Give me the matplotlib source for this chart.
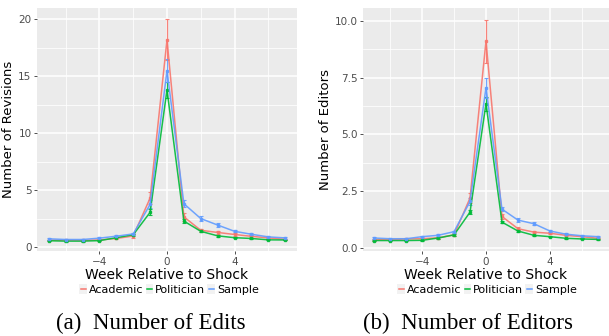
import matplotlib
matplotlib.use("Agg")
import matplotlib.pyplot as plt
from matplotlib.lines import Line2D
from matplotlib.patches import Rectangle
from matplotlib.legend_handler import HandlerBase
import numpy as np

weeks = list(range(-7, 8))
series_names = ["Academic", "Politician", "Sample"]
colors = ["#F8766D", "#00BA38", "#619CFF"]

# Panel (a): Number of Revisions
rev_academic = [0.60, 0.60, 0.58, 0.62, 0.75, 0.97, 4.3, 18.2, 2.65, 1.47, 1.28, 1.10, 0.94, 0.80, 0.68]
rev_politician = [0.55, 0.52, 0.52, 0.56, 0.82, 1.08, 3.05, 13.8, 2.28, 1.38, 0.98, 0.82, 0.75, 0.63, 0.62]
rev_sample = [0.72, 0.66, 0.66, 0.78, 0.95, 1.15, 3.75, 15.5, 3.8, 2.5, 1.93, 1.38, 1.12, 0.89, 0.80]
rev_err_academic = [0.06, 0.06, 0.06, 0.06, 0.08, 0.15, 0.5, 1.8, 0.35, 0.15, 0.12, 0.1, 0.08, 0.07, 0.06]
rev_err_politician = [0.04, 0.04, 0.04, 0.04, 0.06, 0.08, 0.25, 0.7, 0.15, 0.08, 0.06, 0.05, 0.05, 0.04, 0.04]
rev_err_sample = [0.06, 0.05, 0.05, 0.06, 0.08, 0.08, 0.35, 1.0, 0.3, 0.2, 0.15, 0.1, 0.08, 0.06, 0.06]

# Panel (b): Number of Editors
ed_academic = [0.36, 0.37, 0.40, 0.41, 0.45, 0.58, 2.2, 9.1, 1.39, 0.85, 0.70, 0.65, 0.56, 0.50, 0.43]
ed_politician = [0.33, 0.33, 0.33, 0.34, 0.44, 0.58, 1.58, 6.35, 1.14, 0.75, 0.56, 0.50, 0.43, 0.40, 0.38]
ed_sample = [0.44, 0.41, 0.41, 0.50, 0.56, 0.72, 2.05, 7.05, 1.71, 1.23, 1.07, 0.75, 0.61, 0.54, 0.50]
ed_err_academic = [0.03, 0.03, 0.04, 0.04, 0.04, 0.06, 0.2, 0.95, 0.12, 0.06, 0.05, 0.04, 0.04, 0.04, 0.03]
ed_err_politician = [0.02, 0.02, 0.02, 0.02, 0.03, 0.04, 0.1, 0.3, 0.06, 0.04, 0.03, 0.03, 0.02, 0.02, 0.02]
ed_err_sample = [0.03, 0.03, 0.03, 0.03, 0.04, 0.04, 0.15, 0.45, 0.1, 0.08, 0.07, 0.05, 0.04, 0.03, 0.03]

x_ticks = [-4, 0, 4]
x_tick_labels = ["\u22124", "0", "4"]
rev_ticks = [0, 5, 10, 15, 20]
ed_ticks = [0.0, 2.5, 5.0, 7.5, 10.0]
ed_tick_labels = ["0.0", "2.5", "5.0", "7.5", "10.0"]

W, H = 609, 336
fig = plt.figure(figsize=(W / 100, H / 100), dpi=100)
fig.patch.set_facecolor("white")

def fc(x0, y0, x1, y1):
    return [x0 / W, 1 - y1 / H, (x1 - x0) / W, (y1 - y0) / H]

ax1 = fig.add_axes(fc(37, 8, 297, 251))
ax2 = fig.add_axes(fc(363, 8, 609, 251))

def style(ax, yticks, yticklabels, ylim, minor_y, ylabel):
    ax.set_facecolor("#EBEBEB")
    for s in ax.spines.values():
        s.set_visible(False)
    ax.set_xlim(-7.7, 7.7)
    ax.set_ylim(*ylim)
    ax.set_xticks(x_ticks)
    ax.set_xticklabels(x_tick_labels)
    ax.set_xticks([-6, -2, 2, 6], minor=True)
    ax.set_yticks(yticks)
    ax.set_yticklabels(yticklabels)
    ax.set_yticks(minor_y, minor=True)
    ax.grid(True, which="major", color="white", linewidth=1.1)
    ax.grid(True, which="minor", color="white", linewidth=0.55)
    ax.set_axisbelow(True)
    ax.tick_params(which="major", length=2.5, width=0.6, color="#333333",
                   labelsize=7.5, labelcolor="#4D4D4D", pad=1.5)
    ax.tick_params(which="minor", length=0)
    ax.set_xlabel("Week Relative to Shock", fontsize=10, labelpad=1)
    ax.set_ylabel(ylabel, fontsize=9.5, labelpad=2)

def draw(ax, ys, errs):
    for y, e, c in zip(ys, errs, colors):
        ax.errorbar(weeks, y, yerr=e, color=c, linewidth=1.1, marker="s",
                    markersize=1.6, capsize=1.6, elinewidth=0.9, capthick=0.8, alpha=0.9)

draw(ax1, [rev_academic, rev_politician, rev_sample],
     [rev_err_academic, rev_err_politician, rev_err_sample])
draw(ax2, [ed_academic, ed_politician, ed_sample],
     [ed_err_academic, ed_err_politician, ed_err_sample])

style(ax1, rev_ticks, [str(t) for t in rev_ticks], (-0.35, 21.0),
      [2.5, 7.5, 12.5, 17.5], "Number of Revisions")
style(ax2, ed_ticks, ed_tick_labels, (-0.13, 10.56),
      [1.25, 3.75, 6.25, 8.75], "Number of Editors")


class KeyHandler(HandlerBase):
    def create_artists(self, legend, orig_handle, xdescent, ydescent,
                       width, height, fontsize, trans):
        r = Rectangle((-xdescent, -ydescent - 1), width, height + 2,
                      facecolor="#F2F2F2", edgecolor="none", transform=trans)
        ln = Line2D([-xdescent + 1, -xdescent + width - 1],
                    [-ydescent + height / 2] * 2, color=orig_handle.get_color(),
                    linewidth=1.1, transform=trans)
        return [r, ln]


handles = [Line2D([0], [0], color=c, linewidth=1.1) for c in colors]
for cx in [169, 487]:
    fig.legend(handles, series_names, loc="center", ncol=3,
               bbox_to_anchor=(cx / W, 1 - 290 / H), frameon=False,
               fontsize=8, handlelength=0.7, handletextpad=0.15,
               columnspacing=0.2, borderpad=0, borderaxespad=0,
               handler_map={Line2D: KeyHandler()})

fig.text(151 / W, 1 - 323 / H, "(a)  Number of Edits", ha="center", va="center",
         fontsize=16.5, family="Liberation Serif")
fig.text(468 / W, 1 - 323 / H, "(b)  Number of Editors", ha="center", va="center",
         fontsize=16.5, family="Liberation Serif")

fig.savefig("out.png", dpi=100)
